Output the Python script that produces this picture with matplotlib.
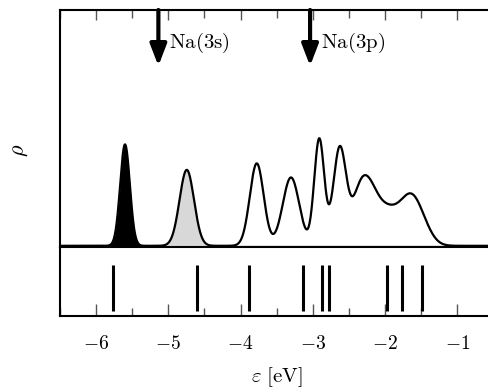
import numpy as np
import matplotlib
matplotlib.use("Agg")
import matplotlib.pyplot as plt
from matplotlib.ticker import MultipleLocator, FuncFormatter

plt.rcParams['mathtext.fontset'] = 'cm'

s_peak = (-5.600, 101.5, 0.067)      # black filled peak
p_peak = (-4.745, 76.0, 0.100)       # grey filled peak
band_centres = [-3.776, -3.302, -2.911, -2.627, -2.385, -2.251, -1.984, -1.634, -1.407]
band_heights = [82.5, 68.4, 106.8, 97.9, 21.7, 55.4, 30.3, 50.1, 1.7]
band_widths = [0.096, 0.115, 0.070, 0.090, 0.098, 0.132, 0.150, 0.165, 0.105]

# single-particle levels (lower panel)
levels = [-5.76, -4.61, -3.88, -3.13, -2.87, -2.78, -1.97, -1.77, -1.49]

# Na atomic levels (arrows)
na_levels = [-5.138, -3.038]
na_labels = ['Na(3s)', 'Na(3p)']

xticks = [-6, -5, -4, -3, -2, -1]


def gauss(x, c, h, s):
    return h * np.exp(-(x - c) ** 2 / (2 * s * s))


x = np.linspace(-6.5, -0.5, 2000)
g_s = gauss(x, *s_peak)
g_p = gauss(x, *p_peak)
g_band = sum(gauss(x, c, h, s) for c, h, s in zip(band_centres, band_heights, band_widths))
total = g_s + g_p + g_band

fig = plt.figure(figsize=(4.89, 3.92), dpi=100)
ax = fig.add_axes([0.1227, 0.3699, 0.8863, 0.6046])
ax2 = fig.add_axes([0.1227, 0.1939, 0.8863, 0.1760], sharex=ax)

ax.axhline(0, color='#9a9a9a', lw=1.0, zorder=1)
ax.fill_between(x, 0, g_s, color='black', lw=0, zorder=2)
ax.fill_between(x, 0, g_p, color='#d8d8d8', lw=0, zorder=2)
ax.plot(x, total, color='black', lw=1.6, zorder=3)

ax.set_xlim(-6.5, -0.5)
ax.set_ylim(-1.2, 236)

for e, lab in zip(na_levels, na_labels):
    ax.annotate('', xy=(e, 180), xytext=(e, 236),
                arrowprops=dict(arrowstyle='-|>,head_length=0.65,head_width=0.25',
                                lw=3, color='black', shrinkA=0, shrinkB=0,
                                mutation_scale=20))
    ax.text(e + 0.15, 203, r'$\mathrm{%s}$' % lab, fontsize=15, va='center', ha='left')

ax.spines['bottom'].set_visible(False)
for sp in ['top', 'left', 'right']:
    ax.spines[sp].set_linewidth(1.5)
ax.tick_params(axis='x', which='both', direction='in', top=True, bottom=False,
               labelbottom=False, color='#555555')
ax.tick_params(axis='x', which='major', length=7, width=1.0)
ax.tick_params(axis='x', which='minor', length=6, width=1.0)
ax.set_yticks([])

ax2.vlines(levels, 0.073, 0.74, color='black', lw=2.2)
ax2.set_ylim(0, 1)
ax2.set_yticks([])
for sp in ax2.spines.values():
    sp.set_linewidth(1.5)
ax2.set_xticks(xticks)
ax2.xaxis.set_minor_locator(MultipleLocator(0.5))
ax2.xaxis.set_major_formatter(FuncFormatter(lambda v, _: r'$%d$' % v))
ax2.tick_params(axis='x', which='both', direction='in', top=False, bottom=True,
                color='#555555')
ax2.tick_params(axis='x', which='major', length=9, width=1.0, labelsize=14, pad=13)
ax2.tick_params(axis='x', which='minor', length=6, width=1.0)
ax2.set_xlabel(r'$\varepsilon\ [\mathrm{eV}]$', fontsize=15, labelpad=9)

fig.text(20 / 489, 1 - 150 / 392, r'$\rho$', fontsize=16, rotation=90,
         ha='center', va='center')

fig.savefig('out.png', dpi=100)
